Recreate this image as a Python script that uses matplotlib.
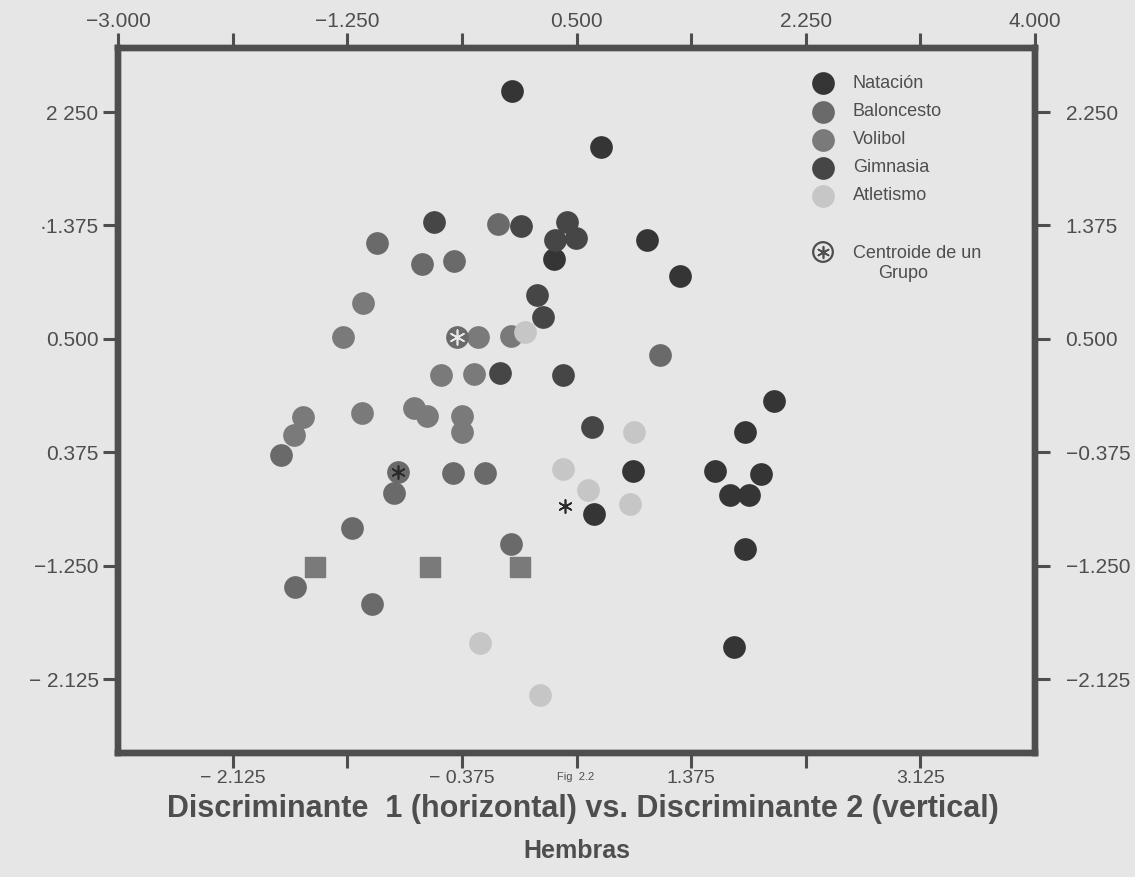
import matplotlib.pyplot as plt

# valores (Discriminante 1, Discriminante 2)
natacion_x = [0.005, 0.685, 0.331, 1.29, 1.035, 2.01, 1.79, 1.56, 1.908, 1.672, 1.817, 1.79, 1.70, 0.934, 0.636]
natacion_y = [2.41, 1.98, 1.113, 0.985, 1.262, 0.02, -0.217, -0.52, -0.546, -0.705, -0.705, -1.122, -1.876, -0.52, -0.852]

gimnasia_x = [-0.588, 0.074, 0.43, 0.336, 0.496, 0.196, 0.242, -0.084, 0.40, 0.62]
gimnasia_y = [1.40, 1.373, 1.40, 1.262, 1.275, 0.838, 0.67, 0.234, 0.221, -0.178]

baloncesto_x = [-1.02, -0.682, -0.435, -0.10, -1.758, -0.893, -0.44, -0.196, -1.216, -1.649, -1.063, 0.0, 1.137]
baloncesto_y = [1.237, 1.077, 1.10, 1.386, -0.397, -0.692, -0.533, -0.538, -0.962, -1.413, -1.546, -1.083, 0.375]

volibol_x = [-1.127, -1.285, -0.254, 0.0, -0.537, -0.282, -1.585, -1.654, -1.14, -0.74, -0.644, -0.376, -0.372]
volibol_y = [0.774, 0.516, 0.516, 0.524, 0.221, 0.226, -0.10, -0.242, -0.07, -0.036, -0.096, -0.096, -0.217]
# puntos impresos como cuadros
cuadros_x = [-1.496, -0.618, 0.069]
cuadros_y = [-1.258, -1.258, -1.258]

atletismo_x = [0.107, 0.94, 0.40, 0.59, 0.908, -0.237, 0.221]
atletismo_y = [0.555, -0.217, -0.508, -0.667, -0.775, -1.845, -2.248]

centroide_x = [-0.41, -0.86, 0.412]
centroide_y = [0.516, -0.525, -0.79]

xtop_ticks = [-3.0 + 0.875 * i for i in range(9)]
xtop_labels = ['\u22123.000', '', '\u22121.250', '', '0.500', '', '2.250', '', '4.000']
xbot_ticks = [-2.125 + 0.875 * i for i in range(7)]
xbot_labels = ['\u2212 2.125', '', '\u2212 0.375', '', '1.375', '', '3.125']
y_ticks = [2.25, 1.375, 0.5, -0.375, -1.25, -2.125]
yleft_labels = ['2 250', '\u00b71.375', '0.500', '0.375', '\u22121.250', '\u2212 2.125']
yright_labels = ['2.250', '1.375', '0.500', '\u22120.375', '\u22121.250', '\u22122.125']

sports = ['Natación', 'Baloncesto', 'Volibol', 'Gimnasia', 'Atletismo']
colors = ['#353535', '#6a6a6a', '#7a7a7a', '#464646', '#c6c6c6']

bg = '#e6e6e6'
ink = '#4e4e4e'
plt.rcParams['font.family'] = ['Liberation Sans', 'DejaVu Sans']

fig = plt.figure(figsize=(11.35, 8.77), dpi=100, facecolor=bg)
ax = fig.add_axes([118 / 1135, 124 / 877, 917 / 1135, 705 / 877])
ax.set_facecolor(bg)

ms = 235
ax.scatter(natacion_x, natacion_y, s=ms, color=colors[0], zorder=3)
ax.scatter(baloncesto_x, baloncesto_y, s=ms, color=colors[1], zorder=3)
ax.scatter(volibol_x, volibol_y, s=ms, color=colors[2], zorder=3)
ax.scatter(cuadros_x, cuadros_y, s=ms * 0.85, marker='s', color=colors[2], zorder=3)
ax.scatter(gimnasia_x, gimnasia_y, s=ms, color=colors[3], zorder=3)
ax.scatter(atletismo_x, atletismo_y, s=ms, color=colors[4], zorder=3)

# centroides
ax.scatter(centroide_x[:2], centroide_y[:2], s=ms, color=colors[1], zorder=4)
ax.scatter(centroide_x[0], centroide_y[0], s=110, marker=(6, 2, 0), color='#e8e8e8', linewidths=1.2, zorder=5)
ax.scatter(centroide_x[1:], centroide_y[1:], s=90, marker=(6, 2, 0), color='#2a2a2a', linewidths=1.2, zorder=5)

ax.set_xlim(-3.0, 4.0)
ax.set_ylim(-2.696, 2.744)

ax_top = ax.twiny()
ax_top.set_xlim(ax.get_xlim())
ax_right = ax.twinx()
ax_right.set_ylim(ax.get_ylim())

for a in [ax, ax_top, ax_right]:
    for sp in a.spines.values():
        sp.set_linewidth(4.5)
        sp.set_color(ink)
    a.tick_params(direction='out', length=11, width=2.2, color=ink, labelcolor=ink, labelsize=15, pad=3)

ax.set_xticks(xbot_ticks)
ax.set_xticklabels(xbot_labels, fontsize=14)
ax.tick_params(axis='x', pad=1)
ax.set_yticks(y_ticks)
ax.set_yticklabels(yleft_labels)
ax_top.set_xticks(xtop_ticks)
ax_top.set_xticklabels(xtop_labels)
ax_top.tick_params(axis='x', pad=1.5)
ax_right.set_yticks(y_ticks)
ax_right.set_yticklabels(yright_labels)
ax_right.tick_params(axis='y', pad=11)


def px(x, y):
    return ((x - 118) / 917, (753 - y) / 705)


# leyenda dibujada a mano
leg_y = [83, 112, 140, 168, 196]
for name, c, yy in zip(sports, colors, leg_y):
    ax.scatter(*px(823, yy), s=ms, color=c, transform=ax.transAxes, zorder=6, clip_on=False)
    ax.text(*px(853, yy), name, transform=ax.transAxes, va='center', ha='left',
            fontsize=13, color=ink)
ax.scatter(*px(823, 252), s=200, facecolor='none', edgecolor=ink, linewidths=1.6,
           transform=ax.transAxes, zorder=6)
ax.scatter(*px(823, 252), s=70, marker=(6, 2, 0), color=ink, linewidths=1.2,
           transform=ax.transAxes, zorder=6)
ax.text(*px(853, 253), 'Centroide de un', transform=ax.transAxes, va='center', ha='left',
        fontsize=13, color=ink)
ax.text(*px(903, 273), 'Grupo', transform=ax.transAxes, va='center', ha='center',
        fontsize=13, color=ink)

fig.text(576 / 1135, 1 - 777 / 877, 'Fig  2.2', ha='center', va='center', fontsize=8, color=ink)
fig.text(583 / 1135, 1 - 809 / 877, 'Discriminante  1 (horizontal) vs. Discriminante 2 (vertical)',
         ha='center', va='center', fontsize=22, fontweight='bold', color=ink)
fig.text(577 / 1135, 1 - 851 / 877, 'Hembras', ha='center', va='center', fontsize=18,
         fontweight='bold', color=ink)

fig.savefig('out.png', dpi=100, facecolor=bg)
